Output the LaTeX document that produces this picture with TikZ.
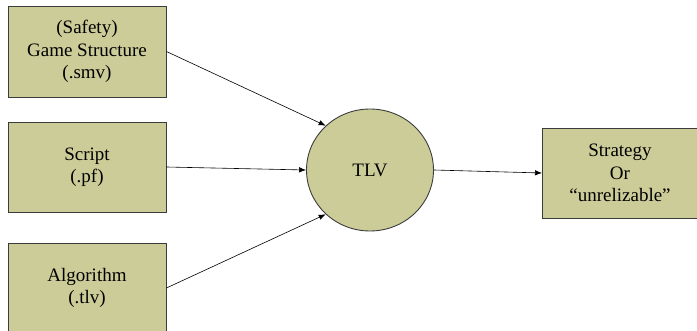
\documentclass[tikz,border=0pt]{standalone}
\usepackage{fontspec}
\setmainfont{Liberation Serif}
\usetikzlibrary{arrows.meta,shapes.geometric}
\definecolor{khaki}{RGB}{204,204,153}
\definecolor{edge}{RGB}{60,60,60}
\tikzset{
  txt/.style={align=center, font=\fontsize{19}{22.5}\selectfont},
  box/.style={draw=edge, line width=0.9pt, fill=khaki, rectangle, inner sep=0pt, txt},
  hub/.style={draw=edge, line width=0.9pt, fill=khaki, ellipse, inner sep=0pt, txt},
  flow/.style={draw=black, line width=0.6pt, -{Latex[length=7pt,width=5.5pt]}}
}
\begin{document}
\begin{tikzpicture}[x=1pt,y=-1pt]
  \useasboundingbox (0,0) rectangle (697,331);
  \clip (0,0) rectangle (697,331);
  \node[box, minimum width=158pt, minimum height=91pt] (game) at (87,51.5)
    {(Safety)\\Game Structure\\(.smv)};
  \node[box, minimum width=158pt, minimum height=90pt] (script) at (87,167)
    {Script\\(.pf)};
  \node[box, minimum width=158pt, minimum height=90pt] (algo) at (87,288)
    {Algorithm\\(.tlv)};
  \node[hub, minimum width=127pt, minimum height=122pt] (tlv) at (370,170) {TLV};
  % output box runs past the right margin; its label sits on its own
  \node[box, minimum width=180pt, minimum height=90pt, anchor=west] (out) at (542,173) {};
  \node[txt, inner sep=0pt] (outlabel) at (620,173) {Strategy\\Or\\“unrelizable”};
  \draw[flow] (game.east) -- (tlv.135);
  \draw[flow] (script.east) -- (tlv.west);
  \draw[flow] (algo.east) -- (tlv.225);
  \draw[flow] (tlv.east) -- (out.west);
\end{tikzpicture}
\end{document}
